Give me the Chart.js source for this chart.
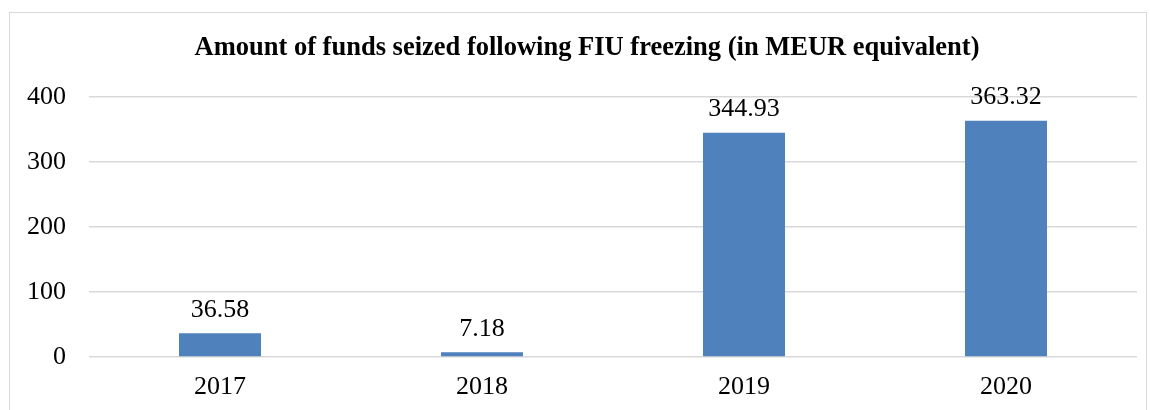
<!DOCTYPE html>
<html><head><meta charset="utf-8">
<script src="https://cdn.jsdelivr.net/npm/chart.js@4/dist/chart.umd.min.js"></script>
<style>
html,body{margin:0;padding:0;background:#fff;}
#wrap{position:relative;width:1150px;height:410px;}
#frame{position:absolute;left:9px;top:12px;width:1138px;height:410px;border:1px solid #d9d9d9;box-sizing:border-box;}
canvas{position:absolute;left:0;top:0;}
</style></head>
<body><div id="wrap"><div id="frame"></div><canvas id="c" width="1150" height="410"></canvas></div>
<script>
const title = 'Amount of funds seized following FIU freezing (in MEUR equivalent)';
const categories = ['2017','2018','2019','2020'];
const values = [36.58, 7.18, 344.93, 363.32];
const labels = ['36.58','7.18','344.93','363.32'];
const yTicks = [0,100,200,300,400];
const FONT = '"Liberation Serif","Times New Roman",serif';

const extras = {
  id:'extras',
  afterDatasetsDraw(chart){
    const ctx = chart.ctx;
    const meta = chart.getDatasetMeta(0);
    ctx.save();
    ctx.fillStyle = '#000';
    ctx.font = '26px ' + FONT;
    ctx.textAlign = 'center';
    ctx.textBaseline = 'alphabetic';
    meta.data.forEach((b,i)=>{ ctx.fillText(labels[i], b.x, b.y - 16.5); });
    ctx.font = 'bold 26.5px ' + FONT;
    ctx.textBaseline = 'middle';
    ctx.fillText(title, 587, 48);
    ctx.restore();
  }
};

new Chart(document.getElementById('c'), {
  type:'bar',
  data:{ labels:categories, datasets:[{ data:values, backgroundColor:'#4f81bd', borderWidth:0, categoryPercentage:1, barPercentage:0.313 }]},
  options:{
    responsive:false, animation:false,
    layout:{ padding:{ top:97, right:13, left:0, bottom:0 } },
    plugins:{ legend:{display:false}, tooltip:{enabled:false}, title:{display:false} },
    scales:{
      x:{
        grid:{ display:false, drawTicks:false },
        border:{ display:false },
        ticks:{ color:'#000', font:{ family:FONT, size:26 }, padding:15 },
        afterFit(s){ s.height = 53; }
      },
      y:{
        min:0, max:400,
        afterBuildTicks(s){ s.ticks = yTicks.map(v=>({value:v})); },
        grid:{ color:'#d9d9d9', lineWidth:1.5, drawTicks:false },
        border:{ display:false },
        ticks:{ color:'#000', font:{ family:FONT, size:26 }, padding:23 },
        afterFit(s){ s.width = 89; }
      }
    }
  },
  plugins:[extras]
});
</script></body></html>
